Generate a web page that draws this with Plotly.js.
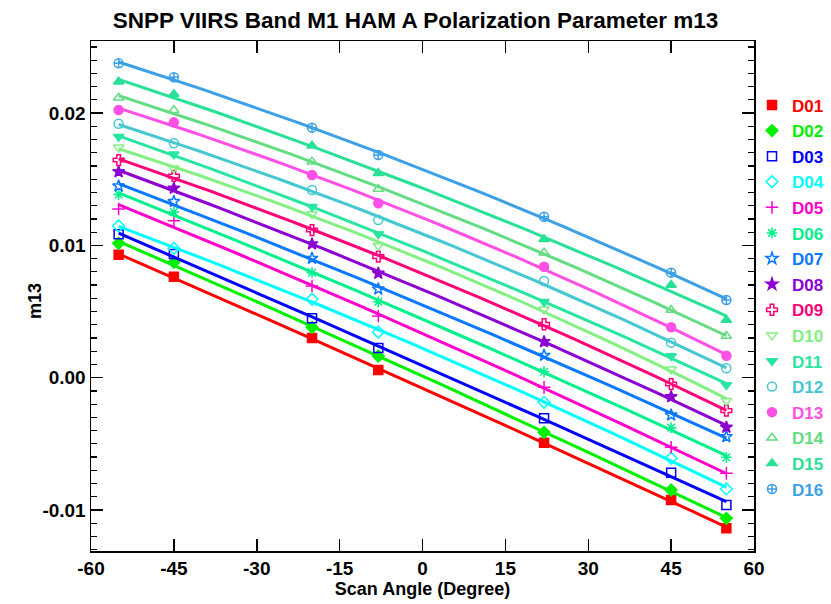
<!DOCTYPE html>
<html>
<head>
<meta charset="utf-8">
<script src="https://cdn.plot.ly/plotly-3.0.1.min.js"></script>
<style>html,body{margin:0;padding:0;background:#fff;}#chart{width:831px;height:604px;}</style>
</head>
<body>
<div id="chart"></div>
<script>
// Scan angles (degrees)
const scanAngle = [-55, -45, -20, -8, 22, 45, 55];
const detectors = ['D01','D02','D03','D04','D05','D06','D07','D08','D09','D10','D11','D12','D13','D14','D15','D16'];

// m13 values per detector
const d01 = [0.00930, 0.00763, 0.00300, 0.00058, -0.00491, -0.00924, -0.01138];
const d02 = [0.01016, 0.00872, 0.00381, 0.00164, -0.00413, -0.00849, -0.01063];
const d03 = [0.01084, 0.00935, 0.00449, 0.00224, -0.00307, -0.00718, -0.00962];
const d04 = [0.01147, 0.00978, 0.00593, 0.00345, -0.00186, -0.00609, -0.00841];
const d05 = [0.01275, 0.01187, 0.00693, 0.00466, -0.00073, -0.00526, -0.00723];
const d06 = [0.01384, 0.01252, 0.00794, 0.00574, 0.00045, -0.00378, -0.00602];
const d07 = [0.01449, 0.01332, 0.00902, 0.00670, 0.00169, -0.00282, -0.00446];
const d08 = [0.01557, 0.01432, 0.01011, 0.00789, 0.00272, -0.00144, -0.00375];
const d09 = [0.01645, 0.01525, 0.01116, 0.00915, 0.00404, -0.00048, -0.00249];
const d10 = [0.01741, 0.01583, 0.01237, 0.00998, 0.00517, 0.00063, -0.00174];
const d11 = [0.01822, 0.01689, 0.01293, 0.01086, 0.00574, 0.00164, -0.00055];
const d12 = [0.01920, 0.01772, 0.01419, 0.01192, 0.00731, 0.00265, 0.00071];
const d13 = [0.02023, 0.01930, 0.01532, 0.01318, 0.00839, 0.00381, 0.00166];
const d14 = [0.02116, 0.02021, 0.01633, 0.01426, 0.00945, 0.00512, 0.00315];
const d15 = [0.02237, 0.02142, 0.01754, 0.01545, 0.01046, 0.00701, 0.00436];
const d16 = [0.02376, 0.02271, 0.01890, 0.01683, 0.01217, 0.00794, 0.00587];
const seriesValues = [d01,d02,d03,d04,d05,d06,d07,d08,d09,d10,d11,d12,d13,d14,d15,d16];

// Tick labels
const xTickVals = [-60, -45, -30, -15, 0, 15, 30, 45, 60];
const xTickText = ['-60', '-45', '-30', '-15', '0', '15', '30', '45', '60'];
const yTickVals = [-0.01, 0.00, 0.01, 0.02];
const yTickText = ['-0.01', '0.00', '0.01', '0.02'];

// Styles
const colors = ['#ff0000','#00f000','#0000ff','#00ffff','#ff00cc','#00f08c','#0a78ff','#8c00d2',
                '#ff0078','#82f082','#28e6a0','#46c8d2','#ff50e6','#64dc82','#28e196','#3ca0e6'];
const symbols = ['square','diamond','square-open','diamond-open','cross-thin-open','asterisk-open','star-open','star',
                 'cross-open','triangle-down-open','triangle-down','circle-open','circle','triangle-up-open','triangle-up','circle-cross-open'];

// quadratic least-squares fit of each detector's points
function quadFit(xs, ys) {
  let S = [0,0,0,0,0], T = [0,0,0];
  for (let i = 0; i < xs.length; i++) {
    let p = 1;
    for (let k = 0; k < 5; k++) { S[k] += p; if (k < 3) T[k] += p * ys[i]; p *= xs[i]; }
  }
  const A = [[S[0],S[1],S[2],T[0]],[S[1],S[2],S[3],T[1]],[S[2],S[3],S[4],T[2]]];
  for (let c = 0; c < 3; c++) {
    for (let r = c + 1; r < 3; r++) {
      const f = A[r][c] / A[c][c];
      for (let k = c; k < 4; k++) A[r][k] -= f * A[c][k];
    }
  }
  const b = [0,0,0];
  for (let r = 2; r >= 0; r--) {
    let s = A[r][3];
    for (let k = r + 1; k < 3; k++) s -= A[r][k] * b[k];
    b[r] = s / A[r][r];
  }
  return b;
}

const traces = [];
const xmin = scanAngle[0], xmax = scanAngle[scanAngle.length - 1];
seriesValues.forEach((vals, i) => {
  const c = quadFit(scanAngle, vals);
  const fx = [], fy = [];
  for (let j = 0; j <= 60; j++) {
    const x = xmin + (xmax - xmin) * j / 60;
    fx.push(x); fy.push(c[0] + c[1] * x + c[2] * x * x);
  }
  traces.push({
    x: fx, y: fy, mode: 'lines', type: 'scatter',
    line: {color: colors[i], width: 3}, showlegend: false, hoverinfo: 'skip',
    legendgroup: detectors[i]
  });
  traces.push({
    x: scanAngle, y: vals, mode: 'markers', type: 'scatter',
    name: '<span style="color:' + colors[i] + '">' + detectors[i] + '</span>',
    legendgroup: detectors[i],
    marker: {symbol: symbols[i], color: colors[i], size: 9, line: {color: colors[i], width: 1.5}}
  });
});

const font = 'Liberation Sans, Arial, sans-serif';
const layout = {
  width: 831, height: 604,
  margin: {l: 91, r: 77, t: 41, b: 53, autoexpand: false},
  paper_bgcolor: '#ffffff', plot_bgcolor: '#ffffff',
  font: {family: font, color: '#000000'},
  title: {text: '<b>SNPP VIIRS Band M1 HAM A Polarization Parameter m13</b>', font: {size: 22.5, family: font, color: '#000'},
          x: 0.5, xanchor: 'center', y: 0.966, yanchor: 'middle'},
  xaxis: {
    range: [-60, 60], tickvals: xTickVals, ticktext: xTickText,
    ticks: 'inside', ticklen: 12, tickwidth: 1.5, tickcolor: '#000',
    showline: true, linecolor: '#000', linewidth: 1.5, mirror: 'ticks',
    showgrid: false, zeroline: false,
    tickfont: {size: 19, family: font, weight: 'bold'},
    title: {text: '<b>Scan Angle (Degree)</b>', font: {size: 18, family: font}, standoff: 3}
  },
  yaxis: {
    range: [-0.0131, 0.02545], tickvals: yTickVals, ticktext: yTickText,
    ticks: 'inside', ticklen: 12, tickwidth: 1.5, tickcolor: '#000',
    minor: {dtick: 0.001, tick0: 0, ticks: 'inside', ticklen: 6, tickwidth: 1.2, tickcolor: '#000'},
    showline: true, linecolor: '#000', linewidth: 1.5, mirror: 'ticks',
    showgrid: false, zeroline: false,
    tickfont: {size: 19, family: font, weight: 'bold'}
  },
  annotations: [{
    text: '<b>m13</b>', textangle: -90, showarrow: false,
    xref: 'paper', yref: 'paper', x: -0.0845, y: 0.49, xanchor: 'center', yanchor: 'middle',
    font: {size: 18, family: font, color: '#000'}
  }],
  legend: {
    x: 0.997, xanchor: 'left', y: 0.909, yanchor: 'top',
    traceorder: 'grouped', tracegroupgap: 0.5,
    itemwidth: 30, bgcolor: 'rgba(0,0,0,0)', borderwidth: 0,
    font: {size: 17, family: font, weight: 'bold'}
  },
  showlegend: true
};

Plotly.newPlot('chart', traces, layout, {displayModeBar: false, staticPlot: true});
</script>
</body>
</html>
